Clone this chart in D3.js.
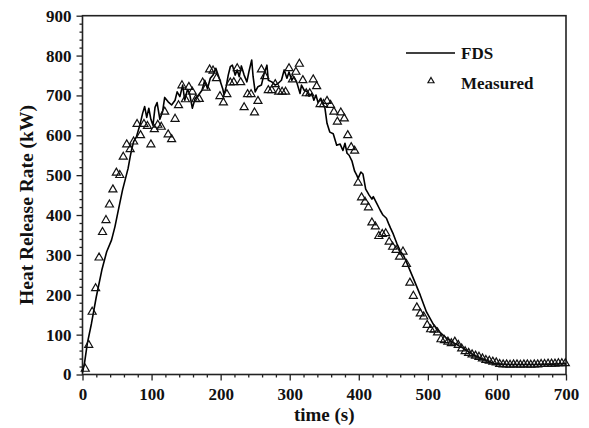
<!DOCTYPE html>
<html>
<head>
<meta charset="utf-8">
<script src="https://cdn.jsdelivr.net/npm/d3@7"></script>
<style>
  body { margin: 0; background: #fff; }
  text { font-family: "Liberation Serif", "Times New Roman", serif; font-weight: bold; fill: #111; }
</style>
</head>
<body>
<svg id="chart" width="589" height="428"></svg>
<script>
// FDS simulation, [time (s), HRR (kW)]
var fdsData = [
    [0,5],[3,30],[7,78],[13,128],[20,195],[28,262],[35,308],[42,337],[47,371],[51,405],
    [54,430],[58,463],[62,490],[66,517],[69,546],[71,563],[74,584],[78,596],[83,625],[87,655],
    [90,672],[93,645],[96,668],[99,640],[102,625],[105,670],[108,682],[112,640],[116,660],[119,695],
    [124,684],[129,676],[134,688],[137,709],[141,697],[145,726],[148,688],[152,715],[155,705],[159,668],
    [163,692],[168,701],[173,713],[177,738],[181,717],[185,743],[189,751],[193,768],[198,743],[203,717],
    [205,701],[208,722],[211,751],[214,772],[217,776],[221,751],[224,764],[227,747],[230,774],[234,751],
    [238,734],[241,760],[245,789],[247,747],[250,709],[254,722],[259,726],[263,755],[267,776],[269,738],
    [274,734],[279,726],[283,730],[288,738],[292,764],[296,743],[299,759],[303,738],[306,747],[310,734],
    [315,705],[317,726],[321,713],[325,710],[328,698],[332,705],[335,688],[338,701],[341,682],[345,693],
    [349,676],[351,668],[354,630],[358,608],[363,604],[368,575],[373,578],[377,562],[380,580],[383,555],
    [386,550],[390,536],[394,510],[397,500],[399,492],[403,508],[406,503],[410,465],[415,450],[419,440],
    [421,446],[426,429],[431,412],[435,400],[440,392],[443,379],[446,367],[450,352],[455,329],[460,310],
    [465,298],[470,278],[479,241],[489,199],[498,157],[508,126],[518,105],[527,91],[537,80],[547,70],
    [556,61],[566,49],[576,41],[585,35],[595,28],[605,26],[620,25],[640,25],[660,25],[680,26],[700,27]
];

// measured HRR, [time (s), HRR (kW)]
var measuredData = [
    [4,14],[9,74],[14,157],[19,216],[24,293],[29,357],[34,387],[39,426],[44,464],[49,506],
    [54,500],[59,546],[64,577],[69,565],[74,584],[79,628],[84,600],[89,628],[94,623],[99,577],
    [104,615],[109,626],[114,621],[119,659],[124,602],[129,590],[134,641],[139,675],[144,725],[149,690],
    [154,721],[159,709],[164,690],[169,691],[174,732],[179,719],[184,765],[189,762],[194,743],[199,698],
    [204,682],[209,703],[214,732],[219,733],[224,768],[229,733],[234,670],[239,703],[244,703],[249,657],
    [254,686],[259,765],[264,748],[269,713],[274,713],[279,728],[284,709],[289,709],[294,709],[299,768],
    [304,740],[309,759],[314,779],[319,738],[324,705],[329,705],[334,740],[339,723],[344,678],[349,678],
    [354,686],[359,676],[364,659],[369,634],[374,657],[379,642],[384,600],[389,570],[394,561],[399,481],
    [404,444],[409,433],[414,419],[419,381],[424,371],[429,347],[434,352],[439,354],[444,333],[449,320],
    [454,312],[459,295],[464,308],[469,277],[474,230],[479,197],[484,168],[489,153],[494,145],[499,124],
    [504,113],[509,112],[514,105],[519,88],[524,86],[529,82],[534,78],[539,82],[544,74],[549,65],
    [554,58],[559,54],[564,50],[569,47],[574,44],[579,40],[584,36],[589,34],[594,32],[599,30],
    [604,26],[609,25],[614,25],[619,24],[624,25],[629,25],[634,24],[639,25],[644,25],[649,24],
    [654,25],[659,25],[664,26],[669,26],[674,27],[679,27],[684,27],[689,28],[694,28],[699,28]
];

var xTicks = [0, 100, 200, 300, 400, 500, 600, 700];
var yTicks = [0, 100, 200, 300, 400, 500, 600, 700, 800, 900];
var legendNames = ['FDS', 'Measured'];

var svg = d3.select('#chart');
var plotLeft = 82.5, plotRight = 566, plotTop = 15.7, plotBottom = 374.5;

var x = d3.scaleLinear().domain([0, 700]).range([plotLeft, plotRight]);
var y = d3.scaleLinear().domain([0, 900]).range([plotBottom, plotTop]);

// minor ticks every 20
var xMinor = d3.range(0, 701, 20).filter(function(d) { return d % 100 !== 0; });
var yMinor = d3.range(0, 901, 20).filter(function(d) { return d % 100 !== 0; });

svg.append('g')
    .attr('transform', 'translate(0,' + plotBottom + ')')
    .call(d3.axisBottom(x).tickValues(xMinor).tickSize(3).tickFormat(''))
    .call(function(g) { g.select('.domain').remove(); });
svg.append('g')
    .attr('transform', 'translate(' + plotLeft + ',0)')
    .call(d3.axisLeft(y).tickValues(yMinor).tickSize(3).tickFormat(''))
    .call(function(g) { g.select('.domain').remove(); });

var xAxis = svg.append('g')
    .attr('transform', 'translate(0,' + plotBottom + ')')
    .call(d3.axisBottom(x).tickValues(xTicks).tickSize(6).tickPadding(7).tickFormat(d3.format('d')));
xAxis.select('.domain').remove();
xAxis.selectAll('text').style('font-size', '17px').attr('fill', '#111');

var yAxis = svg.append('g')
    .attr('transform', 'translate(' + plotLeft + ',0)')
    .call(d3.axisLeft(y).tickValues(yTicks).tickSize(6).tickPadding(5).tickFormat(d3.format('d')));
yAxis.select('.domain').remove();
yAxis.selectAll('text').style('font-size', '17px').attr('fill', '#111');

svg.selectAll('.tick line').attr('stroke', '#222').attr('stroke-width', 1.3);

// frame
svg.append('rect')
    .attr('x', plotLeft)
    .attr('y', plotTop)
    .attr('width', plotRight - plotLeft)
    .attr('height', plotBottom - plotTop)
    .attr('fill', 'none')
    .attr('stroke', '#222')
    .attr('stroke-width', 1.6);

// FDS line
var line = d3.line()
    .x(function(d) { return x(d[0]); })
    .y(function(d) { return y(d[1]); });

svg.append('path')
    .datum(fdsData)
    .attr('d', line)
    .attr('fill', 'none')
    .attr('stroke', '#000')
    .attr('stroke-width', 1.6)
    .attr('stroke-linejoin', 'round');

// measured triangles
var tri = d3.symbol().type(d3.symbolTriangle).size(28);
svg.append('g')
    .selectAll('path')
    .data(measuredData)
    .enter()
    .append('path')
    .attr('d', tri)
    .attr('transform', function(d) { return 'translate(' + x(d[0]) + ',' + y(d[1]) + ')'; })
    .attr('fill', 'none')
    .attr('stroke', '#111')
    .attr('stroke-width', 1.2);

// legend
svg.append('line')
    .attr('x1', 406).attr('x2', 455)
    .attr('y1', 53).attr('y2', 53)
    .attr('stroke', '#000')
    .attr('stroke-width', 1.6);
svg.append('text')
    .attr('x', 461).attr('y', 59)
    .style('font-size', '17px')
    .text(legendNames[0]);
svg.append('path')
    .attr('d', d3.symbol().type(d3.symbolTriangle).size(16))
    .attr('transform', 'translate(431,81)')
    .attr('fill', 'none')
    .attr('stroke', '#111')
    .attr('stroke-width', 1.2);
svg.append('text')
    .attr('x', 461).attr('y', 89)
    .style('font-size', '17px')
    .text(legendNames[1]);

// axis titles
svg.append('text')
    .attr('x', (plotLeft + plotRight) / 2)
    .attr('y', 421)
    .attr('text-anchor', 'middle')
    .style('font-size', '19px')
    .text('time (s)');

svg.append('text')
    .attr('transform', 'translate(33,205) rotate(-90)')
    .attr('text-anchor', 'middle')
    .style('font-size', '19.5px')
    .text('Heat Release Rate (kW)');
</script>
</body>
</html>
